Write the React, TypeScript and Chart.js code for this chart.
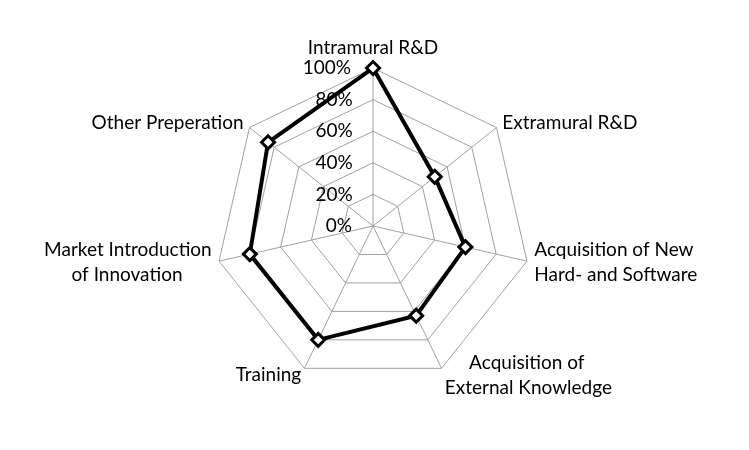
import React, { useEffect, useRef } from "react";
import { Chart, registerables } from "chart.js";

Chart.register(...registerables);

const categories: (string | string[])[] = [
  "Intramural R&D",
  "Extramural R&D",
  ["Acquisition of New", "Hard- and Software"],
  ["Acquisition of", "External Knowledge"],
  "Training",
  ["Market Introduction", "of Innovation"],
  "Other Preperation",
];

const seriesValues: number[] = [100, 50, 60, 63, 80, 80, 85];

const tickValues: number[] = [0, 20, 40, 60, 80, 100];
const tickLabels: string[] = ["0%", "20%", "40%", "60%", "80%", "100%"];

const FONT_FAMILY = "Lato, 'Open Sans', sans-serif";
const FONT_SIZE = 19;

// Excel-like placement: side labels are centred vertically on their anchor.
const centerSideLabels = {
  id: "centerSideLabels",
  afterLayout(chart: any) {
    const s: any = chart.scales.r;
    const items: any[] = s && s._pointLabelItems;
    if (!items) return;
    const n = items.length;
    items.forEach((it: any, i: number) => {
      const deg = Math.round((i * 360) / n) % 360;
      if (deg === 0 || deg === 180) return;
      const h = it.bottom - it.top;
      const anchor = deg < 90 || deg > 270 ? it.bottom : it.top;
      it.y = anchor - h / 2;
      it.top = it.y;
      it.bottom = it.y + h;
    });
  },
};

export default function App() {
  const canvasRef = useRef<HTMLCanvasElement | null>(null);

  useEffect(() => {
    const canvas = canvasRef.current;
    if (!canvas) return;

    const mctx = document.createElement("canvas").getContext("2d")!;
    mctx.font = `${FONT_SIZE}px ${FONT_FAMILY}`;
    const mw = (s: string) => mctx.measureText(s).width;

    // tick labels sit just left of the vertical axis
    const gap = 20;
    const padTick = (s: string) => {
      const target = 2 * mw(s) + 2 * gap;
      let out = s;
      while (mw(out) < target) out += " ";
      return out;
    };

    // centre the lines of multi-line category labels on each other
    const centerLines = (label: any, index: number) => {
      if (!Array.isArray(label)) return label;
      const n = categories.length;
      const deg = Math.round((index * 360) / n) % 360;
      const maxW = Math.max(...label.map((l: string) => mw(l)));
      return label.map((l: string) => {
        const half = (maxW - mw(l)) / 2;
        let sp = "";
        while (mw(sp + " ") <= half + 2) sp += " ";
        if (deg > 0 && deg < 180) return sp + l;
        if (deg > 180) return l + sp;
        return l;
      });
    };

    const chart = new Chart(canvas, {
      type: "radar",
      data: {
        labels: categories,
        datasets: [
          {
            data: seriesValues,
            borderColor: "#000000",
            borderWidth: 4,
            backgroundColor: "rgba(0,0,0,0)",
            fill: false,
            pointStyle: "rectRot",
            pointRadius: 6.5,
            pointBorderWidth: 3,
            pointBackgroundColor: "#ffffff",
            pointBorderColor: "#000000",
          },
        ],
      },
      options: {
        responsive: false,
        animation: false,
        layout: { padding: { top: 32, bottom: 19, left: 0, right: 2 } },
        plugins: {
          legend: { display: false },
          tooltip: { enabled: false },
        },
        scales: {
          r: {
            min: -0.001,
            max: 100,
            ticks: {
              stepSize: 20,
              showLabelBackdrop: false,
              backdropPadding: 0,
              color: "#000000",
              font: { family: FONT_FAMILY, size: FONT_SIZE },
              callback: (v: any) => {
                const val = Math.round(Number(v));
                const idx = tickValues.indexOf(val);
                return padTick(idx >= 0 ? tickLabels[idx] : `${val}%`);
              },
            },
            grid: { color: "#a0a0a0", lineWidth: 1 },
            angleLines: { color: "#a0a0a0", lineWidth: 1 },
            pointLabels: {
              color: "#000000",
              padding: -2,
              font: { family: FONT_FAMILY, size: FONT_SIZE, lineHeight: "25px" },
              callback: centerLines,
            },
          },
        },
      },
      plugins: [centerSideLabels],
    });

    return () => chart.destroy();
  }, []);

  return (
    <div style={{ position: "absolute", left: 0, top: 0, width: 749, height: 450, background: "#fff" }}>
      <canvas ref={canvasRef} width={749} height={450} />
    </div>
  );
}
